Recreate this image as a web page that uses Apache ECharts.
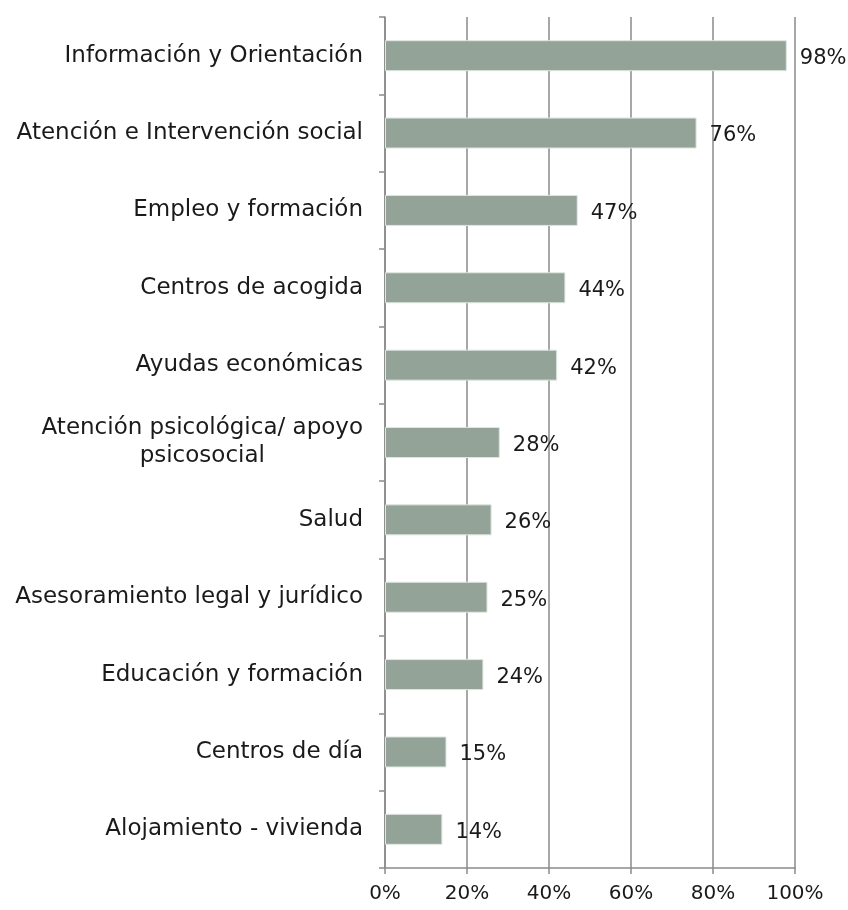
<!DOCTYPE html>
<html>
<head>
<meta charset="utf-8">
<script src="https://cdn.jsdelivr.net/npm/echarts@6/dist/echarts.min.js"></script>
<style>
  html, body { margin: 0; padding: 0; background: #fff; }
  #chart { width: 848px; height: 910px; }
</style>
</head>
<body>
<div id="chart"></div>
<script>
// categories, top to bottom
const categories = [
  'Información y Orientación',
  'Atención e Intervención social',
  'Empleo y formación',
  'Centros de acogida',
  'Ayudas económicas',
  'Atención psicológica/ apoyo\npsicosocial',
  'Salud',
  'Asesoramiento legal y jurídico',
  'Educación y formación',
  'Centros de día',
  'Alojamiento - vivienda'
]
const values = [98, 76, 47, 44, 42, 28, 26, 25, 24, 15, 14]
const xTicks = [0, 20, 40, 60, 80, 100]

const fontFamily = 'DejaVu Sans'
const axisGray = '#8a8a8a'

const chart = echarts.init(document.getElementById('chart'))
const option = {
  animation: false,
  backgroundColor: '#fff',
  grid: {
    left: 385,
    right: 53,
    top: 17,
    bottom: 42
  },
  xAxis: {
    type: 'value',
    min: xTicks[0],
    max: xTicks[xTicks.length - 1],
    interval: 20,
    axisLine: { show: true, lineStyle: { color: axisGray, width: 1.5 } },
    axisTick: { show: true, length: 6, lineStyle: { color: axisGray, width: 1.5 } },
    splitLine: { show: true, lineStyle: { color: axisGray, width: 1.5 } },
    axisLabel: {
      color: '#1a1a1a',
      fontFamily: fontFamily,
      fontSize: 20,
      margin: 16,
      formatter: (v) => v + '%'
    }
  },
  yAxis: {
    type: 'category',
    inverse: true,
    data: categories,
    axisLine: { show: true, lineStyle: { color: axisGray, width: 1.5 } },
    axisTick: { show: true, length: 6, lineStyle: { color: axisGray, width: 1.5 } },
    axisLabel: {
      color: '#1a1a1a',
      fontFamily: fontFamily,
      fontSize: 23,
      margin: 22,
      lineHeight: 28,
      formatter: (v) => {
        const parts = v.split('\n')
        if (parts.length === 1) return v
        return parts[0] + '\n{c|' + parts[1] + '}'
      },
      rich: {
        c: {
          align: 'center',
          color: '#1a1a1a',
          fontFamily: fontFamily,
          fontSize: 23,
          lineHeight: 28
        }
      }
    }
  },
  series: [
    {
      type: 'bar',
      data: values,
      barWidth: 31,
      itemStyle: {
        color: '#93a398',
        borderColor: '#dfe6e1',
        borderWidth: 1
      },
      label: {
        show: true,
        position: 'right',
        distance: 13,
        offset: [0, 3],
        color: '#1a1a1a',
        fontFamily: fontFamily,
        fontSize: 21,
        formatter: (p) => p.value + '%'
      }
    }
  ]
}
chart.setOption(option)
</script>
</body>
</html>
